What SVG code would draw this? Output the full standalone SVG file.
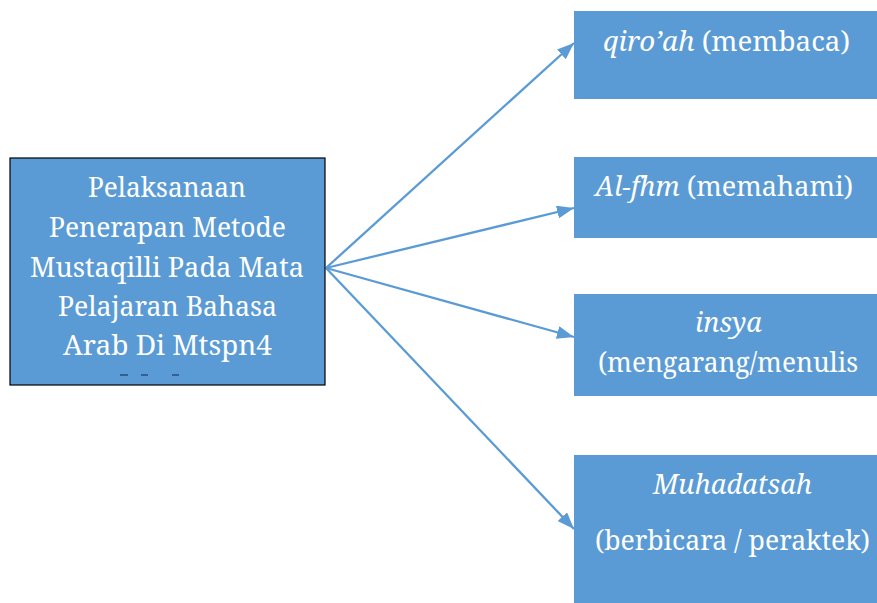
<svg xmlns="http://www.w3.org/2000/svg" width="877" height="603" viewBox="0 0 877 603">
<style>
.box{fill:#5B9BD5}
.main{fill:#5B9BD5;stroke:#000;stroke-width:1.2}
.t{font-family:Noto Serif, DejaVu Serif, serif;font-size:27px;fill:#fff;text-anchor:middle}
.i{font-style:italic}
.c{stroke:#5B9BD5;stroke-width:2.3;fill:none}
.d{stroke:#1F3864;stroke-width:1.2}
</style>
<defs>
<marker id="a" viewBox="0 0 17 13" refX="17" refY="6.5" markerWidth="17" markerHeight="13" markerUnits="userSpaceOnUse" orient="auto">
<path d="M0,0 L17,6.5 L0,13 Z" fill="#5B9BD5"/>
</marker>
</defs>
<g id="connectors">
<line class="c" x1="326" y1="268" x2="574" y2="43" marker-end="url(#a)"/>
<line class="c" x1="326" y1="268" x2="574" y2="208" marker-end="url(#a)"/>
<line class="c" x1="326" y1="268" x2="574" y2="337" marker-end="url(#a)"/>
<line class="c" x1="326" y1="268" x2="574" y2="529" marker-end="url(#a)"/>
</g>
<g id="main" font-family="Noto Serif, DejaVu Serif, serif">
<rect class="main" x="10" y="158" width="315" height="227"/>
<text class="t" x="167" y="197" textLength="158" lengthAdjust="spacingAndGlyphs">Pelaksanaan</text>
<text class="t" x="167.5" y="237" textLength="237" lengthAdjust="spacingAndGlyphs">Penerapan Metode</text>
<text class="t" x="167" y="277" textLength="274" lengthAdjust="spacingAndGlyphs">Mustaqilli Pada Mata</text>
<text class="t" x="167.5" y="316" textLength="219" lengthAdjust="spacingAndGlyphs">Pelajaran Bahasa</text>
<text class="t" x="167.5" y="355" textLength="209" lengthAdjust="spacingAndGlyphs">Arab Di Mtspn4</text>
<line class="d" x1="120" y1="375" x2="128" y2="375"/>
<line class="d" x1="141" y1="375" x2="148" y2="375"/>
<line class="d" x1="172" y1="375" x2="179" y2="375"/>
</g>
<g id="qiroah" font-family="Noto Serif, DejaVu Serif, serif">
<rect class="box" x="574" y="11" width="303" height="88"/>
<text class="t" x="726.5" y="51" textLength="247" lengthAdjust="spacingAndGlyphs"><tspan class="i">qiro’ah</tspan> (membaca)</text>
</g>
<g id="alfhm" font-family="Noto Serif, DejaVu Serif, serif">
<rect class="box" x="574" y="157" width="303" height="81"/>
<text class="t" x="724" y="196" textLength="258" lengthAdjust="spacingAndGlyphs"><tspan class="i">Al-fhm</tspan> (memahami)</text>
</g>
<g id="insya" font-family="Noto Serif, DejaVu Serif, serif">
<rect class="box" x="574" y="294" width="303" height="102"/>
<text class="t i" x="728.5" y="332" textLength="67" lengthAdjust="spacingAndGlyphs">insya</text>
<text class="t" x="728" y="372" textLength="260" lengthAdjust="spacingAndGlyphs">(mengarang/menulis</text>
</g>
<g id="muhadatsah" font-family="Noto Serif, DejaVu Serif, serif">
<rect class="box" x="574" y="455" width="303" height="148"/>
<text class="t i" x="732.5" y="494" textLength="159" lengthAdjust="spacingAndGlyphs">Muhadatsah</text>
<text class="t" x="732.5" y="550" textLength="275" lengthAdjust="spacingAndGlyphs">(berbicara / peraktek)</text>
</g>
</svg>
